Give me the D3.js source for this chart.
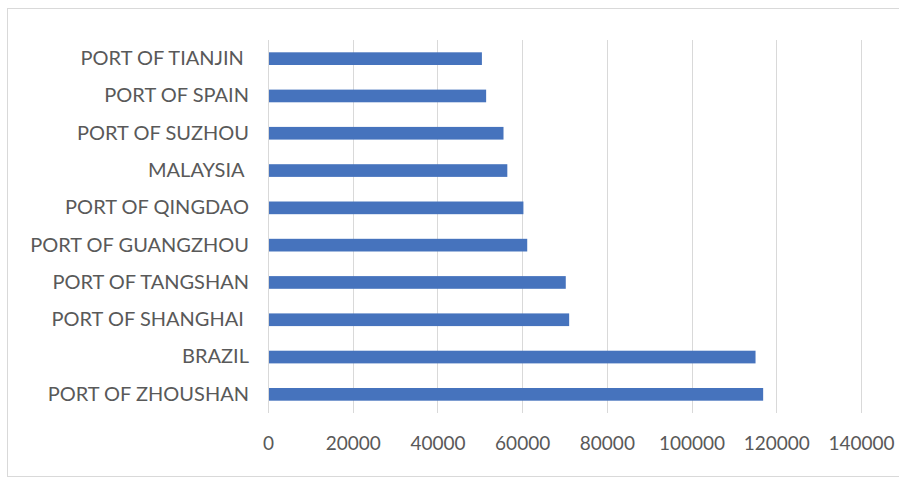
<!DOCTYPE html>
<html>
<head>
<meta charset="utf-8">
<script src="https://cdn.jsdelivr.net/npm/d3@7"></script>
<style>
  html, body { margin: 0; padding: 0; background: #fff; }
  svg { display: block; }
  text { white-space: pre; }
</style>
</head>
<body>
<svg id="chart" width="899" height="477"></svg>
<script>
// Categories from top to bottom, with their values
const categories = [
  "PORT OF TIANJIN ",
  "PORT OF SPAIN",
  "PORT OF SUZHOU",
  "MALAYSIA ",
  "PORT OF QINGDAO",
  "PORT OF GUANGZHOU",
  "PORT OF TANGSHAN",
  "PORT OF SHANGHAI ",
  "BRAZIL",
  "PORT OF ZHOUSHAN"
];
const values = [50500, 51500, 55600, 56500, 60300, 61200, 70300, 71100, 115100, 116900];
const xTicks = [0, 20000, 40000, 60000, 80000, 100000, 120000, 140000];

const svg = d3.select("#chart");
const W = 899, H = 477;

// outer chart frame
svg.append("rect")
  .attr("x", 7.5).attr("y", 8.5)
  .attr("width", W).attr("height", H - 9)
  .attr("fill", "#fff")
  .attr("stroke", "#d9d9d9").attr("stroke-width", 1);

const plot = { left: 268, right: 861, top: 40, bottom: 413 };

const x = d3.scaleLinear().domain([0, 140000]).range([plot.left, plot.right]);
const y = d3.scaleBand().domain(categories).range([plot.top, plot.bottom]).paddingInner(0.66).paddingOuter(0.33);

// vertical gridlines
svg.append("g")
  .selectAll("line")
  .data(xTicks)
  .join("line")
  .attr("x1", d => Math.round(x(d)) + 0.5)
  .attr("x2", d => Math.round(x(d)) + 0.5)
  .attr("y1", plot.top)
  .attr("y2", plot.bottom)
  .attr("stroke", "#d9d9d9")
  .attr("stroke-width", 1);

// bars
svg.append("g")
  .selectAll("rect")
  .data(categories)
  .join("rect")
  .attr("x", x(0) + 1)
  .attr("y", d => y(d))
  .attr("width", (d, i) => x(values[i]) - x(0) - 1)
  .attr("height", y.bandwidth())
  .attr("fill", "#4673bd");

const font = "Lato, 'Open Sans', sans-serif";

// category axis
const yAxis = svg.append("g")
  .attr("transform", `translate(${plot.left},0)`)
  .call(d3.axisLeft(y).tickSize(0).tickPadding(19));
yAxis.select(".domain").remove();
yAxis.selectAll("text")
  .attr("fill", "#595959")
  .style("font-family", font)
  .style("font-size", "20px");

// value axis
const xAxis = svg.append("g")
  .attr("transform", `translate(0,${plot.bottom})`)
  .call(d3.axisBottom(x).tickValues(xTicks).tickSize(0).tickPadding(24).tickFormat(d3.format("d")));
xAxis.select(".domain").remove();
xAxis.selectAll("text")
  .attr("fill", "#595959")
  .style("font-family", font)
  .style("font-size", "19px");
</script>
</body>
</html>
